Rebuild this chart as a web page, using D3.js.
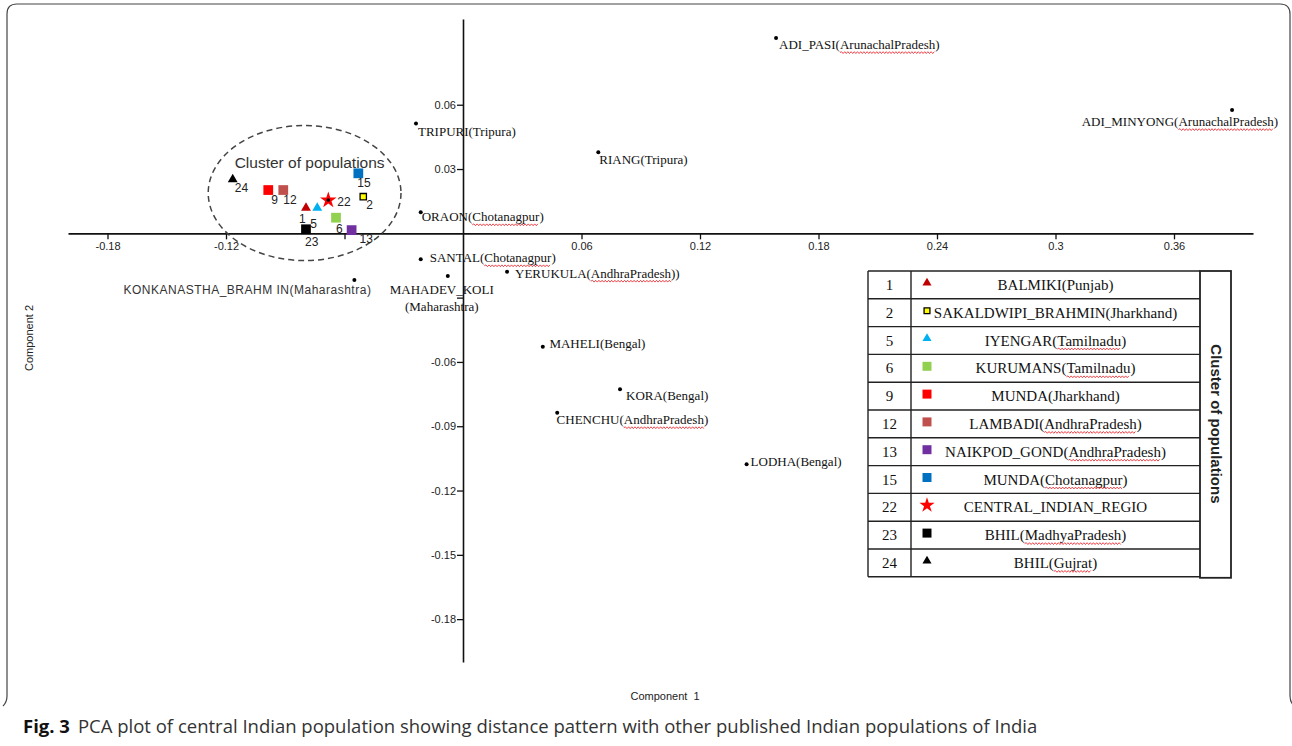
<!DOCTYPE html>
<html><head><meta charset="utf-8">
<script src="https://cdn.jsdelivr.net/npm/d3@7"></script>
<style>body{margin:0;background:#fff;} svg{display:block;}</style>
</head><body><svg id="c" width="1292" height="746"></svg>
<script>
// ---------- data ----------
const popNames = [
  "ADI_PASI(ArunachalPradesh)", "ADI_MINYONG(ArunachalPradesh)", "TRIPURI(Tripura)", "RIANG(Tripura)",
  "ORAON(Chotanagpur)", "SANTAL(Chotanagpur)", "MAHADEV_KOLI\n(Maharashtra)", "YERUKULA(AndhraPradesh))",
  "KONKANASTHA_BRAHM IN(Maharashtra)", "MAHELI(Bengal)", "KORA(Bengal)", "CHENCHU(AndhraPradesh)", "LODHA(Bengal)"
];
const popPC1 = [0.1585, 0.3894, -0.0238, 0.0685, -0.0214, -0.0214, -0.0077, 0.0223, -0.0550, 0.0404, 0.0795, 0.0477, 0.1436];
const popPC2 = [0.0911, 0.0575, 0.0513, 0.0378, 0.0098, -0.0121, -0.0199, -0.0179, -0.0218, -0.0529, -0.0728, -0.0837, -0.1077];

const clusterIds = [1, 2, 5, 6, 9, 12, 13, 15, 22, 23, 24];
const clusterNames = ["BALMIKI(Punjab)", "SAKALDWIPI_BRAHMIN(Jharkhand)", "IYENGAR(Tamilnadu)", "KURUMANS(Tamilnadu)",
  "MUNDA(Jharkhand)", "LAMBADI(AndhraPradesh)", "NAIKPOD_GOND(AndhraPradesh)", "MUNDA(Chotanagpur)",
  "CENTRAL_INDIAN_REGIO", "BHIL(MadhyaPradesh)", "BHIL(Gujrat)"];
const clusterPC1 = [-0.0795, -0.0505, -0.0738, -0.0643, -0.0986, -0.0910, -0.0564, -0.0530, -0.0682, -0.0795, -0.1166];
const clusterPC2 = [0.0119, 0.0171, 0.0119, 0.0073, 0.0202, 0.0202, 0.0015, 0.0280, 0.0155, 0.0019, 0.0252];

const clusterEllipseCenter = [-0.0802, 0.0188];
const clusterEllipseRadii = [0.0488, 0.0315];

const xTicks = [-0.18, -0.12, -0.06, 0.06, 0.12, 0.18, 0.24, 0.3, 0.36];
const xTickLabels = ["-0.18", "-0.12", "", "0.06", "0.12", "0.18", "0.24", "0.3", "0.36"];
const yTicks = [0.06, 0.03, -0.03, -0.06, -0.09, -0.12, -0.15, -0.18];
const yTickLabels = ["0.06", "0.03", "", "-0.06", "-0.09", "-0.12", "-0.15", "-0.18"];

const clusterTitle = "Cluster of populations";
const xTitle = "Component  1";
const yTitle = "Component 2";
const captionBold = "Fig. 3";
const captionText = "PCA plot of central Indian population showing distance pattern with other published Indian populations of India";
const misspelled = ["ArunachalPradesh", "Chotanagpur", "AndhraPradesh", "Tamilnadu", "MadhyaPradesh", "Gujrat"];

// ---------- styles / layout ----------
const clusterShape = ["triangle", "smallsquare", "triangle", "square", "square", "square", "square", "square", "star", "square", "triangle"];
const clusterColor = ["#c00000", "#ffff00", "#00b0f0", "#92d050", "#ff0000", "#c0504d", "#7030a0", "#0070c0", "#ff0000", "#000000", "#000000"];
const clusterLabelOffset = [[-7, 15], [3, 12.6], [-7, 20], [0, 15], [3, 14], [0, 13.5], [8, 12.5], [-1, 14], [9, 6], [-1, 16.7], [2, 13]];
const popLabelLayout = [
  {dx: 3, dy: 11, anchor: "start", font: "serif"},
  {dx: 46, dy: 16, anchor: "end", font: "serif"},
  {dx: 2, dy: 13, anchor: "start", font: "serif"},
  {dx: 1, dy: 12, anchor: "start", font: "serif"},
  {dx: 1, dy: 9, anchor: "start", font: "serif"},
  {dx: 9, dy: 3, anchor: "start", font: "serif"},
  {dx: -6, dy: 18, anchor: "middle", font: "serif", lh: 17},
  {dx: 8, dy: 6, anchor: "start", font: "serif"},
  {dx: 17, dy: 14, anchor: "end", font: "sans"},
  {dx: 6.6, dy: 1.5, anchor: "start", font: "serif"},
  {dx: 6, dy: 11, anchor: "start", font: "serif"},
  {dx: -0.6, dy: 11.5, anchor: "start", font: "serif"},
  {dx: 4, dy: 1.7, anchor: "start", font: "serif"}
];
const SERIF = "'Liberation Serif','Times New Roman',serif";
const SANS = "'Liberation Sans',Arial,sans-serif";

const svg = d3.select("#c");
const x = d3.scaleLinear().domain([-0.2, 0.4]).range([68, 1253]);
const y = d3.scaleLinear().domain([-0.2, 0.1]).range([662, 19]);

// frame
svg.append("path")
  .attr("d", "M3,706 Q7,702 7,696 L7,14 Q7,4 17,4 L1280,4 Q1290,4 1290,14 L1290,696 Q1290,702 1294,706")
  .attr("fill", "none").attr("stroke", "#444").attr("stroke-width", 1.2);

// axes
const xAxis = d3.axisBottom(x).tickValues(xTicks).tickSizeInner(6).tickSizeOuter(0).tickPadding(3)
  .tickFormat((d, i) => xTickLabels[i]);
const yAxis = d3.axisLeft(y).tickValues(yTicks).tickSizeInner(6).tickSizeOuter(0).tickPadding(1)
  .tickFormat((d, i) => yTickLabels[i]);
const gx = svg.append("g").attr("transform", `translate(0,${y(0)})`).call(xAxis);
const gy = svg.append("g").attr("transform", `translate(${x(0)},0)`).call(yAxis);
[gx, gy].forEach(g => {
  g.select(".domain").attr("stroke", "#111").attr("stroke-width", 1.6);
  g.selectAll(".tick line").attr("stroke", "#111").attr("stroke-width", 1.3);
  g.selectAll(".tick text").attr("fill", "#222").style("font-family", SANS).style("font-size", "11px");
});

// wavy underline helper
function wavy(parent, x1, x2, yy) {
  let d = `M${x1},${yy}`, up = true;
  for (let xx = x1 + 1.6; xx <= x2; xx += 1.6) { d += `L${xx.toFixed(1)},${(yy + (up ? -0.9 : 0.9)).toFixed(1)}`; up = !up; }
  parent.append("path").attr("d", d).attr("fill", "none").attr("stroke", "#e8141c").attr("stroke-width", 0.8);
}
function underlineMisspelled(parent, textSel, baseY) {
  const node = textSel.node();
  const str = node.textContent;
  misspelled.forEach(w => {
    const i = str.indexOf(w);
    if (i < 0) return;
    const a = node.getExtentOfChar(i), b = node.getExtentOfChar(i + w.length - 1);
    wavy(parent, a.x, b.x + b.width, baseY + 3.5);
  });
}

// dashed cluster ellipse
svg.append("ellipse")
  .attr("cx", x(clusterEllipseCenter[0])).attr("cy", y(clusterEllipseCenter[1]))
  .attr("rx", x(clusterEllipseRadii[0]) - x(0)).attr("ry", y(0) - y(clusterEllipseRadii[1]))
  .attr("fill", "none").attr("stroke", "#444").attr("stroke-width", 1.5).attr("stroke-dasharray", "6,4");

svg.append("text").attr("x", x(clusterEllipseCenter[0]) + 5).attr("y", 168)
  .attr("text-anchor", "middle").style("font-family", SANS).style("font-size", "15.5px").attr("fill", "#333")
  .text(clusterTitle);

// population points
const gp = svg.append("g");
popNames.forEach((name, i) => {
  const px = x(popPC1[i]), py = y(popPC2[i]);
  gp.append("circle").attr("cx", px).attr("cy", py).attr("r", 2).attr("fill", "#000");
  const L = popLabelLayout[i];
  const lines = name.split("\n");
  lines.forEach((ln, k) => {
    const by = py + L.dy + k * (L.lh || 0);
    const t = gp.append("text").attr("x", px + L.dx).attr("y", by).attr("text-anchor", L.anchor)
      .style("font-family", L.font === "serif" ? SERIF : SANS)
      .style("font-size", L.font === "serif" ? "13px" : "12px")
      .style("letter-spacing", L.font === "serif" ? "0px" : "0.5px")
      .attr("fill", L.font === "serif" ? "#111" : "#333").text(ln);
    underlineMisspelled(gp, t, by);
  });
});

// symbol drawing
function drawSymbol(g, shape, color, cx, cy, scale) {
  const s = scale || 1;
  if (shape === "triangle") {
    g.append("path").attr("d", d3.symbol(d3.symbolTriangle, 42 * s)()).attr("transform", `translate(${cx},${cy})`).attr("fill", color);
  } else if (shape === "square") {
    g.append("path").attr("d", d3.symbol(d3.symbolSquare, 95 * s)()).attr("transform", `translate(${cx},${cy})`).attr("fill", color);
  } else if (shape === "smallsquare") {
    g.append("path").attr("d", d3.symbol(d3.symbolSquare, 40 * s)()).attr("transform", `translate(${cx},${cy})`)
      .attr("fill", color).attr("stroke", "#000").attr("stroke-width", 1.3);
  } else if (shape === "star") {
    g.append("path").attr("d", d3.symbol(d3.symbolStar, 85 * s)()).attr("transform", `translate(${cx},${cy})`).attr("fill", color);
  }
}

// cluster points
const gc = svg.append("g");
clusterIds.forEach((id, i) => {
  const px = x(clusterPC1[i]), py = y(clusterPC2[i]);
  drawSymbol(gc, clusterShape[i], clusterColor[i], px, py, 1);
  if (clusterShape[i] === "star") gc.append("circle").attr("cx", px).attr("cy", py).attr("r", 1.8).attr("fill", "#000");
  gc.append("text").attr("x", px + clusterLabelOffset[i][0]).attr("y", py + clusterLabelOffset[i][1])
    .style("font-family", SANS).style("font-size", "12px").attr("fill", "#222").text(id);
});

// legend table
const tLeft = 868, tDiv = 911, tRight = 1200, boxRight = 1231, tTop = 271, rowH = 27.8;
const nRows = clusterIds.length;
const tBottom = tTop + nRows * rowH;
const gl = svg.append("g");
const lineAttr = sel => sel.attr("stroke", "#222").attr("stroke-width", 1.4);
for (let r = 0; r <= nRows; r++) {
  lineAttr(gl.append("line").attr("x1", tLeft).attr("x2", tRight).attr("y1", tTop + r * rowH).attr("y2", tTop + r * rowH));
}
lineAttr(gl.append("line").attr("x1", tLeft).attr("x2", tLeft).attr("y1", tTop).attr("y2", tBottom));
lineAttr(gl.append("line").attr("x1", tDiv).attr("x2", tDiv).attr("y1", tTop).attr("y2", tBottom));
gl.append("rect").attr("x", tRight).attr("y", tTop).attr("width", boxRight - tRight).attr("height", tBottom - tTop + 1)
  .attr("fill", "none").attr("stroke", "#222").attr("stroke-width", 1.8);
clusterIds.forEach((id, r) => {
  const cy = tTop + r * rowH + rowH / 2;
  gl.append("text").attr("x", (tLeft + tDiv) / 2).attr("y", cy + 5).attr("text-anchor", "middle")
    .style("font-family", SERIF).style("font-size", "15px").attr("fill", "#111").text(id);
  drawSymbol(gl, clusterShape[r], clusterColor[r], 927, cy - 2, 0.85);
  const t = gl.append("text").attr("x", 1055.5).attr("y", cy + 5).attr("text-anchor", "middle")
    .style("font-family", SERIF).style("font-size", "15px").attr("fill", "#111").text(clusterNames[r]);
  underlineMisspelled(gl, t, cy + 5);
});
gl.append("text").attr("transform", `translate(${(tRight + boxRight) / 2 - 5},${(tTop + tBottom) / 2}) rotate(90)`)
  .attr("text-anchor", "middle").style("font-family", SANS).style("font-size", "15px").style("font-weight", "bold")
  .attr("fill", "#222").text(clusterTitle);

// axis titles
svg.append("text").attr("x", 665).attr("y", 700).attr("text-anchor", "middle")
  .style("font-family", SANS).style("font-size", "11px").attr("fill", "#222").style("white-space", "pre").text(xTitle);
svg.append("text").attr("transform", "translate(33,338) rotate(-90)").attr("text-anchor", "middle")
  .style("font-family", SANS).style("font-size", "11px").attr("fill", "#222").text(yTitle);

// caption
const cap = svg.append("text").attr("x", 23).attr("y", 732.5)
  .style("font-family", "'Open Sans','Noto Sans',sans-serif").style("font-size", "18.5px");
cap.append("tspan").style("font-weight", "bold").attr("fill", "#111").text(captionBold);
cap.append("tspan").attr("dx", 8).attr("fill", "#333").text(captionText);
</script></body></html>
